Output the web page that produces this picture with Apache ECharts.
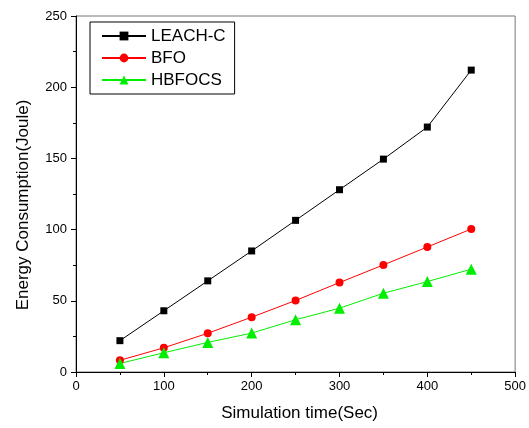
<!DOCTYPE html>
<html>
<head>
<meta charset="utf-8">
<script src="https://cdn.jsdelivr.net/npm/echarts@6/dist/echarts.min.js"></script>
<style>
  html, body { margin: 0; padding: 0; background: #fff; }
  #main { width: 529px; height: 428px; }
</style>
</head>
<body>
<div id="main"></div>
<script>
// simulation time (Sec)
const times = [50, 100, 150, 200, 250, 300, 350, 400, 450];
const leachC = [22, 43, 64, 85, 106.5, 128, 149.5, 172, 212];
const bfo = [8.2, 17, 27.2, 38.5, 50.2, 62.8, 75.2, 87.8, 100.4];
const hbfocs = [6, 13.5, 20.8, 27.3, 36.7, 44.8, 55.3, 63.5, 72.2];

const font = 'Liberation Sans, Arial, sans-serif';

function pairs(ys) {
  return times.map((t, i) => [t, ys[i]]);
}

const chart = echarts.init(document.getElementById('main'));

chart.setOption({
  animation: false,
  grid: {
    left: 76, right: 13, top: 16, bottom: 56,
    show: true, borderColor: '#777', borderWidth: 1, backgroundColor: 'transparent'
  },
  legend: {
    orient: 'vertical',
    left: 90, top: 22,
    padding: [5, 9, 5, 11],
    itemGap: 4,
    itemWidth: 44,
    itemHeight: 11,
    borderColor: '#000',
    borderWidth: 1,
    borderRadius: 0,
    textStyle: { fontFamily: font, fontSize: 17, color: '#000', lineHeight: 18 },
    data: ['LEACH-C', 'BFO', 'HBFOCS']
  },
  xAxis: {
    type: 'value',
    min: 0, max: 500, interval: 100,
    name: 'Simulation time(Sec)',
    nameLocation: 'middle',
    nameGap: 33,
    nameTextStyle: { fontFamily: font, fontSize: 17, color: '#000', padding: [0, 0, 0, 8] },
    axisLine: { lineStyle: { color: '#000', width: 1 } },
    axisTick: { length: 5, lineStyle: { color: '#000' } },
    minorTick: { show: true, splitNumber: 2, length: 3, lineStyle: { color: '#000' } },
    axisLabel: { fontFamily: font, fontSize: 13, color: '#000', margin: 8 },
    splitLine: { show: false }
  },
  yAxis: {
    type: 'value',
    min: 0, max: 250, interval: 50,
    name: 'Energy Consumption(Joule)',
    nameLocation: 'middle',
    nameGap: 44,
    nameTextStyle: { fontFamily: font, fontSize: 17, color: '#000', padding: [0, 22, 0, 0] },
    axisLine: { show: true, lineStyle: { color: '#000', width: 1 } },
    axisTick: { show: true, length: 5, lineStyle: { color: '#000' } },
    minorTick: { show: true, splitNumber: 2, length: 3, lineStyle: { color: '#000' } },
    axisLabel: { fontFamily: font, fontSize: 13, color: '#000', margin: 9 },
    splitLine: { show: false }
  },
  series: [
    {
      name: 'LEACH-C', type: 'line', data: pairs(leachC),
      symbol: 'rect', symbolSize: 7,
      itemStyle: { color: '#000' },
      lineStyle: { color: '#000', width: 1 }
    },
    {
      name: 'BFO', type: 'line', data: pairs(bfo),
      symbol: 'circle', symbolSize: 8,
      itemStyle: { color: '#ff0000' },
      lineStyle: { color: '#ff0000', width: 1 }
    },
    {
      name: 'HBFOCS', type: 'line', data: pairs(hbfocs),
      symbol: 'triangle', symbolSize: 11,
      itemStyle: { color: '#00ee00' },
      lineStyle: { color: '#00ee00', width: 1 }
    }
  ]
});
</script>
</body>
</html>
